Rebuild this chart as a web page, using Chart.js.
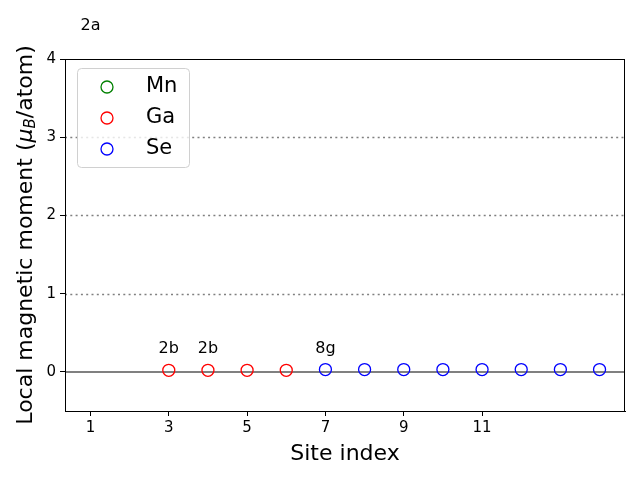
<!DOCTYPE html>
<html>
<head>
<meta charset="utf-8">
<script src="https://cdn.jsdelivr.net/npm/chart.js@4.4.1/dist/chart.umd.min.js"></script>
<style>
  html, body { margin: 0; padding: 0; background: #fff; }
  #wrap { width: 640px; height: 480px; }
</style>
</head>
<body>
<div id="wrap"><canvas id="chart"></canvas></div>
<script>
// data
const mnSites = [1, 2];
const mnMoments = [4.15, 4.15];
const gaSites = [3, 4, 5, 6];
const gaMoments = [0.02, 0.02, 0.02, 0.02];
const seSites = [7, 8, 9, 10, 11, 12, 13, 14];
const seMoments = [0.03, 0.03, 0.03, 0.03, 0.03, 0.03, 0.03, 0.03];
const xTicks = [1, 3, 5, 7, 9, 11];
const yTicks = [0, 1, 2, 3, 4];
const dottedLevels = [1, 2, 3];
const siteLabels = [
    { x: 1, y: 4.42, text: '2a' },
    { x: 3, y: 0.29, text: '2b' },
    { x: 4, y: 0.29, text: '2b' },
    { x: 7, y: 0.29, text: '8g' }
];

const FONT = '"DejaVu Sans", sans-serif';
const toPts = (xs, ys) => xs.map((x, i) => ({ x: x, y: ys[i] }));

const decorations = {
    id: 'decorations',
    beforeDatasetsDraw(chart) {
        const { ctx, chartArea: a, scales: { x, y } } = chart;
        ctx.save();
        ctx.strokeStyle = '#808080';
        ctx.lineWidth = 1.5;
        ctx.setLineDash([2, 3.3]);
        dottedLevels.forEach(v => {
            const py = Math.round(y.getPixelForValue(v)) + 0.5;
            ctx.beginPath(); ctx.moveTo(a.left, py); ctx.lineTo(a.right, py); ctx.stroke();
        });
        ctx.setLineDash([]);
        ctx.lineWidth = 2;
        const p0 = y.getPixelForValue(0);
        ctx.beginPath(); ctx.moveTo(a.left, p0); ctx.lineTo(a.right, p0); ctx.stroke();
        ctx.restore();
    },
    afterDraw(chart) {
        const { ctx, chartArea: a, scales: { x, y } } = chart;
        ctx.save();
        // frame
        ctx.strokeStyle = '#000';
        ctx.lineWidth = 1;
        ctx.strokeRect(a.left + 0.5, a.top + 0.5, a.right - a.left - 1, a.bottom - a.top);

        // site annotations
        ctx.fillStyle = '#000';
        ctx.font = '16px ' + FONT;
        ctx.textAlign = 'center';
        ctx.textBaseline = 'middle';
        siteLabels.forEach(l => {
            ctx.fillText(l.text, x.getPixelForValue(l.x), y.getPixelForValue(l.y));
        });

        // axis titles
        ctx.font = '22px ' + FONT;
        ctx.fillText('Site index', (a.left + a.right) / 2, 454);

        ctx.translate(26, (a.top + a.bottom) / 2);
        ctx.rotate(-Math.PI / 2);
        const parts = [
            { t: 'Local magnetic moment (', f: '22px ' + FONT, dy: 0 },
            { t: 'μ', f: 'italic 22px ' + FONT, dy: 0 },
            { t: 'B', f: 'italic 15px ' + FONT, dy: 5 },
            { t: '/atom)', f: '22px ' + FONT, dy: 0 }
        ];
        let total = 0;
        parts.forEach(p => { ctx.font = p.f; p.w = ctx.measureText(p.t).width; total += p.w; });
        let cx = -total / 2;
        ctx.textAlign = 'left';
        parts.forEach(p => { ctx.font = p.f; ctx.fillText(p.t, cx, p.dy); cx += p.w; });
        ctx.restore();

        // legend
        ctx.save();
        const lx = 77, ly = 68, lw = 112, lh = 99;
        ctx.beginPath();
        ctx.roundRect(lx + 0.5, ly + 0.5, lw, lh, 4);
        ctx.fillStyle = 'rgba(255,255,255,0.8)';
        ctx.fill();
        ctx.strokeStyle = '#d0d0d0';
        ctx.lineWidth = 1;
        ctx.stroke();
        ctx.font = '21px ' + FONT;
        ctx.textBaseline = 'middle';
        ctx.textAlign = 'left';
        chart.data.datasets.forEach((ds, i) => {
            const cy = 87 + i * 31;
            ctx.beginPath();
            ctx.arc(107, cy, 6, 0, Math.PI * 2);
            ctx.strokeStyle = ds.borderColor;
            ctx.lineWidth = 1.3;
            ctx.stroke();
            ctx.fillStyle = '#000';
            ctx.fillText(ds.label, 146, cy);
        });
        ctx.restore();
    }
};

new Chart(document.getElementById('chart'), {
    type: 'scatter',
    data: {
        datasets: [{
            label: 'Mn',
            data: toPts(mnSites, mnMoments),
            borderColor: 'green',
            backgroundColor: 'rgba(0,0,0,0)',
            pointRadius: 6,
            borderWidth: 1.3
        }, {
            label: 'Ga',
            data: toPts(gaSites, gaMoments),
            borderColor: 'red',
            backgroundColor: 'rgba(0,0,0,0)',
            pointRadius: 6,
            borderWidth: 1.3
        }, {
            label: 'Se',
            data: toPts(seSites, seMoments),
            borderColor: 'blue',
            backgroundColor: 'rgba(0,0,0,0)',
            pointRadius: 6,
            borderWidth: 1.3
        }]
    },
    options: {
        responsive: true,
        maintainAspectRatio: false,
        animation: false,
        layout: { padding: { top: 59, right: 15, left: 0, bottom: 0 } },
        scales: {
            x: {
                type: 'linear',
                min: 0.35,
                max: 14.65,
                afterBuildTicks: s => { s.ticks = xTicks.map(v => ({ value: v })); },
                afterFit: s => { s.height = 69; },
                grid: { drawOnChartArea: false, tickLength: 5, color: '#000' },
                border: { color: '#000' },
                ticks: { color: '#000', font: { family: FONT, size: 15 }, padding: 3, maxRotation: 0 }
            },
            y: {
                min: -0.5,
                max: 4,
                afterBuildTicks: s => { s.ticks = yTicks.map(v => ({ value: v })); },
                afterFit: s => { s.width = 65; },
                grid: { drawOnChartArea: false, tickLength: 5, color: '#000' },
                border: { color: '#000' },
                ticks: { color: '#000', font: { family: FONT, size: 15 }, padding: 4 }
            }
        },
        plugins: {
            legend: { display: false },
            tooltip: { enabled: false }
        }
    },
    plugins: [decorations]
});
</script>
</body>
</html>
